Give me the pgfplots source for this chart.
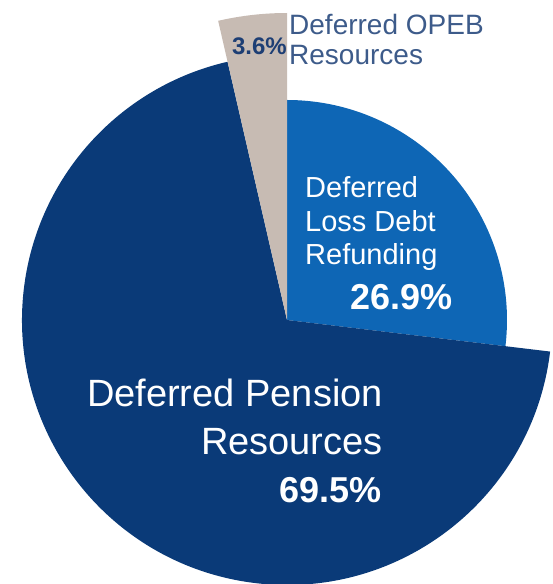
\documentclass[border=0pt]{standalone}
\usepackage{pgfplots}
\usepackage{pgfplotstable}
\pgfplotsset{compat=1.18}
\usepackage{fontspec}
\setmainfont{Liberation Sans}

\definecolor{sliceA}{HTML}{0E66B5}
\definecolor{sliceB}{HTML}{0A3A78}
\definecolor{sliceC}{HTML}{C7BBB3}
\definecolor{txtTop}{HTML}{3D5B8A}
\definecolor{txtPct}{HTML}{1D3E74}

% share (%), radius (px), colour; slices run clockwise from 12 o'clock
\pgfplotstableread{
name     pct   r    col
LossDebt 26.9  220  sliceA
Pension  69.5  265  sliceB
OPEB     3.6   307  sliceC
}\slices

\begin{document}
\begin{tikzpicture}
\begin{axis}[x=1pt,y=1pt,
  xmin=-287,xmax=266,ymin=-264,ymax=320,
  hide axis,clip=true]
\pgfplotstablegetrowsof{\slices}
\pgfmathtruncatemacro{\last}{\pgfplotsretval-1}
\def\angstart{90}
\pgfplotsforeachungrouped \i in {0,...,\last}{%
  \pgfplotstablegetelem{\i}{pct}\of{\slices}\let\pct\pgfplotsretval
  \pgfplotstablegetelem{\i}{r}\of{\slices}\let\rad\pgfplotsretval
  \pgfplotstablegetelem{\i}{col}\of{\slices}\let\col\pgfplotsretval
  \pgfmathsetmacro{\angend}{\angstart-3.6*\pct}%
  \edef\temp{\noexpand\fill[\col] (axis cs:0,0) --
    (axis cs:{\rad*cos(\angstart)},{\rad*sin(\angstart)})
    arc[start angle=\angstart,end angle=\angend,radius=\rad pt] -- cycle;}%
  \temp
  \let\angstart\angend
}

% labels
\begin{scope}[every node/.style={inner sep=0pt}]
\node[anchor=base east,white] at (axis cs:96,-87) {\fontsize{38}{46}\selectfont Deferred Pension};
\node[anchor=base east,white] at (axis cs:96,-135) {\fontsize{38}{46}\selectfont Resources};
\node[anchor=base east,white] at (axis cs:95,-183) {\fontsize{36}{44}\selectfont\bfseries 69.5\%};

\node[anchor=base west,white] at (axis cs:18,122) {\fontsize{29}{35}\selectfont Deferred};
\node[anchor=base west,white] at (axis cs:18,88) {\fontsize{29}{35}\selectfont Loss Debt};
\node[anchor=base west,white] at (axis cs:18,55) {\fontsize{29}{35}\selectfont Refunding};
\node[anchor=base east,white] at (axis cs:166,10) {\fontsize{36}{44}\selectfont\bfseries 26.9\%};

\node[anchor=base west,txtTop] at (axis cs:2,285) {\fontsize{28}{34}\selectfont Deferred OPEB};
\node[anchor=base west,txtTop] at (axis cs:2,255) {\fontsize{28}{34}\selectfont Resources};
\node[anchor=base east,txtPct] at (axis cs:0,265) {\fontsize{24}{28}\selectfont\bfseries 3.6\%};
\end{scope}
\end{axis}
\pgfresetboundingbox
\path (current axis.south west) rectangle (current axis.north east);
\end{tikzpicture}
\end{document}
